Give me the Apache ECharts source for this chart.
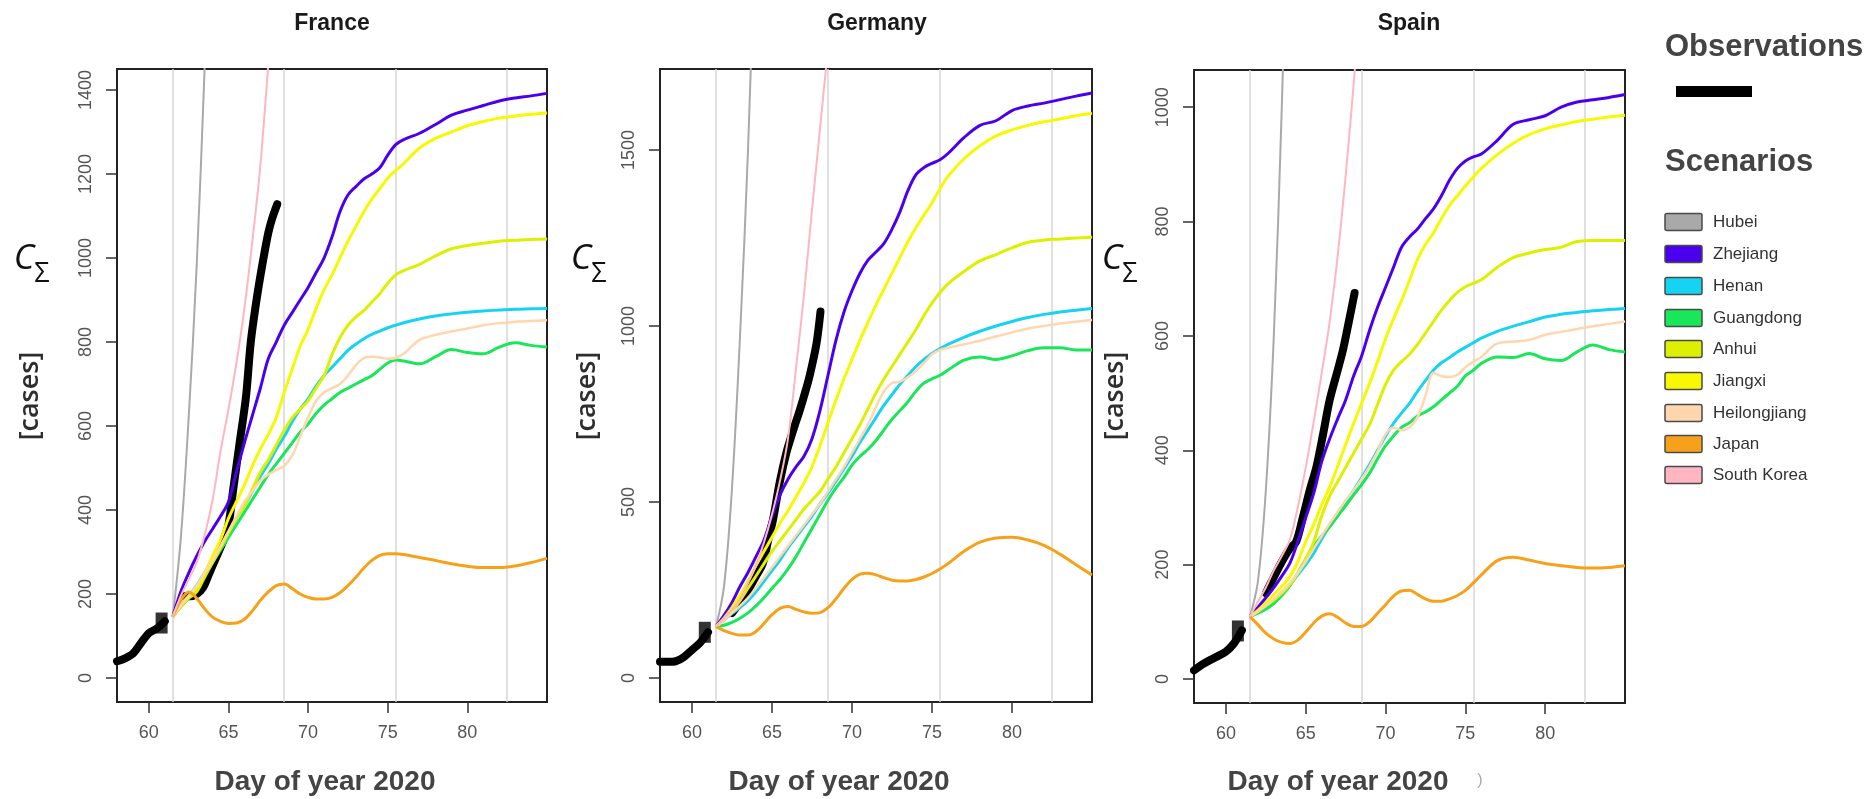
<!DOCTYPE html>
<html>
<head>
<meta charset="utf-8">
<script src="https://cdn.jsdelivr.net/npm/echarts@6/dist/echarts.min.js"></script>
<style>
  html, body { margin: 0; padding: 0; background: #fff; }
  #chart { width: 1874px; height: 799px; }
</style>
</head>
<body>
<div id="chart"></div>
<script>
// ---- Scenario projections: cumulative cases by day of year 2020 ----
const DAYS = [61.5,62,62.5,63,63.5,64,64.5,65,65.5,66,66.5,67,67.5,68,68.5,69,69.5,70,70.5,71,71.5,72,72.5,73,73.5,74,74.5,75,75.5,76,77,78,79,80,81,82,83,84,85];

const SCENARIOS = ['Hubei','Zhejiang','Henan','Guangdong','Anhui','Jiangxi','Heilongjiang','Japan','South Korea'];
const PANEL_NAMES = ['France','Germany','Spain'];

const X_TICKS = [60,65,70,75,80];
const WEEK_LINES = [61.5,68.5,75.5,82.5];
const FR_Y_TICKS = [0,200,400,600,800,1000,1200,1400];
const DE_Y_TICKS = [0,500,1000,1500];
const ES_Y_TICKS = [0,200,400,600,800,1000];

// France
const FR_HUBEI = [146,330,620,980,1450,2000];
const FR_ZHEJIANG = [146,205,250,290,325,355,385,420,490,560,625,690,760,800,840,870,900,930,965,1000,1050,1110,1150,1170,1188,1200,1215,1245,1270,1282,1297,1318,1340,1352,1363,1374,1381,1386,1392];
const FR_HENAN = [146,172,195,220,250,280,310,345,380,410,445,480,510,545,575,610,640,665,695,720,740,760,780,795,808,818,826,834,840,846,855,862,867,871,874,876,878,879,880];
const FR_GUANGDONG = [146,170,190,215,245,275,305,335,365,395,425,455,485,510,535,560,585,605,630,650,665,680,690,700,710,720,735,750,757,755,748,765,782,775,772,788,798,792,788];
const FR_ANHUI = [146,170,190,205,240,275,310,345,380,410,450,490,520,555,590,620,640,660,690,720,770,810,840,860,875,895,915,940,960,970,985,1005,1022,1030,1035,1040,1042,1044,1045];
const FR_JIANGXI = [146,175,195,215,250,290,330,380,420,460,505,545,580,620,680,735,790,830,880,924,960,1000,1040,1075,1110,1140,1165,1190,1208,1225,1262,1285,1300,1315,1325,1333,1338,1342,1345];
const FR_HEILONGJIANG = [146,172,195,220,250,280,315,350,385,420,445,470,485,495,505,530,575,620,660,680,690,700,720,745,762,765,763,760,762,772,805,817,825,832,840,845,848,850,852];
const FR_JAPAN = [146,185,205,190,165,145,135,130,131,140,160,185,205,220,224,213,200,192,188,188,192,203,220,240,262,280,292,296,296,294,287,280,272,266,263,263,267,275,285];
const FR_SOUTH_KOREA = [146,195,235,275,340,424,540,640,750,880,1040,1220,1460,1700];
const FR_OBS_EARLY_DAYS = [58,58.5,59,59.5,60,60.5,61];
const FR_OBS_EARLY = [40,47,58,83,107,118,135];
const FR_OBS_LATE_DAYS = [62.2,62.6,63,63.4,63.8,64.2,64.6,65,65.3,65.7,66.1,66.4,66.8,67.2,67.5,67.75,68.06];
const FR_OBS_LATE = [195,195,200,215,250,285,320,365,450,560,670,800,910,1000,1060,1095,1128];
const FR_REPORT_DAY = [60.8];
const FR_REPORT_CASES = [131];

// Germany
const DE_HUBEI = [146,260,540,970,1500,2200];
const DE_ZHEJIANG = [146,178,215,260,300,345,392,460,520,565,600,630,680,760,860,960,1040,1100,1150,1187,1210,1235,1275,1325,1385,1430,1450,1462,1472,1490,1535,1570,1583,1612,1625,1633,1643,1653,1662];
const DE_HENAN = [146,165,183,200,220,245,275,305,335,370,400,430,460,495,525,560,595,630,670,705,740,775,805,835,860,885,905,922,936,948,968,985,1000,1013,1024,1033,1040,1045,1050];
const DE_GUANGDONG = [146,150,158,170,185,205,228,255,280,310,345,385,425,465,505,540,570,605,630,650,675,705,735,760,785,815,838,850,860,875,903,912,905,915,930,938,938,932,932];
const DE_ANHUI = [146,165,190,220,255,290,325,360,390,420,450,480,505,530,565,600,640,680,720,765,810,850,885,920,955,990,1030,1065,1095,1120,1155,1185,1203,1222,1238,1244,1247,1250,1252];
const DE_JIANGXI = [146,170,200,235,275,320,360,400,440,475,515,555,600,660,725,790,850,905,960,1010,1060,1105,1150,1195,1240,1280,1315,1350,1390,1425,1475,1512,1540,1557,1570,1580,1588,1597,1604];
const DE_HEILONGJIANG = [146,165,185,205,228,255,285,315,345,375,405,435,465,495,530,565,600,640,680,720,770,815,838,842,855,872,895,920,932,938,948,958,970,982,993,1000,1007,1012,1017];
const DE_JAPAN = [146,135,127,122,122,132,155,180,198,203,195,188,184,186,200,225,255,280,295,298,293,285,278,276,276,280,287,297,310,325,360,386,398,400,392,377,352,322,293];
const DE_SOUTH_KOREA = [146,170,195,222,270,320,385,465,560,680,880,1090,1330,1560,1790];
const DE_OBS_EARLY_DAYS = [58,58.5,59,59.5,60,60.5,61];
const DE_OBS_EARLY = [46,46,48,60,80,100,130];
const DE_OBS_LATE_DAYS = [62.5,63,63.5,64,64.43,64.8,65.06,65.5,65.9,66.3,66.73,67.06,67.36,67.78,68.03];
const DE_OBS_LATE = [185,215,250,290,326,400,449,560,640,700,760,810,860,950,1041];
const DE_REPORT_DAY = [60.8];
const DE_REPORT_CASES = [130];

// Spain
const ES_HUBEI = [109,170,330,600,1000,1500];
const ES_ZHEJIANG = [109,125,142,160,180,202,240,282,325,380,420,455,488,530,565,610,650,685,720,755,773,787,805,822,845,872,893,906,913,918,942,970,978,985,1000,1009,1013,1017,1022];
const ES_HENAN = [109,117,126,137,150,165,182,200,220,245,268,290,310,330,352,375,400,425,447,465,482,503,522,540,553,562,572,580,588,596,608,617,625,633,638,641,644,646,648];
const ES_GUANGDONG = [109,115,122,132,146,163,185,210,232,250,266,285,303,322,340,360,385,408,425,440,448,460,467,476,488,500,512,530,540,552,563,562,569,560,557,572,584,576,572];
const ES_ANHUI = [109,118,128,138,150,165,185,210,240,285,320,345,370,395,420,445,480,515,540,555,568,585,605,625,645,662,676,686,692,698,720,737,745,751,755,765,767,767,767];
const ES_JIANGXI = [109,120,133,148,162,179,205,240,270,305,336,372,410,447,482,517,555,595,630,662,697,734,760,780,805,828,845,862,878,893,917,937,952,962,969,975,979,983,986];
const ES_HEILONGJIANG = [109,118,128,140,153,168,185,205,228,250,272,292,312,330,350,372,398,428,440,435,440,458,495,535,530,528,532,545,555,563,587,590,593,602,607,612,617,621,625];
const ES_JAPAN = [109,95,80,70,64,62,68,82,98,110,114,108,98,92,92,100,115,130,145,154,155,148,140,136,136,140,146,155,168,182,207,213,208,202,198,195,194,195,198];
const ES_SOUTH_KOREA = [109,135,160,190,215,243,300,370,450,535,625,740,880,1040,1210];
const ES_OBS_EARLY_DAYS = [58,58.5,59,59.5,60,60.5,61];
const ES_OBS_EARLY = [15,25,33,40,48,62,85];
const ES_OBS_LATE_DAYS = [62.5,63,63.5,64,64.4,64.83,65.25,65.67,66.1,66.5,67,67.33,67.7,68.06];
const ES_OBS_LATE = [150,178,205,228,240,284,330,371,430,488,540,575,625,675];
const ES_REPORT_DAY = [60.75];
const ES_REPORT_CASES = [84];

// ---- styling ----
const SCENARIO_COLORS = ['#a9a9a9','#4a00ee','#16d3f2','#1ae65a','#dcf000','#f8f800','#ffd6ad','#f7a11a','#ffb6c1'];
const SCENARIO_WIDTHS = [2, 3, 3, 3, 3, 3, 2.5, 3, 2];
const TICK_FONT = '"Liberation Sans", Arial, sans-serif';

const panels = [
  { scen: [FR_HUBEI,FR_ZHEJIANG,FR_HENAN,FR_GUANGDONG,FR_ANHUI,FR_JIANGXI,FR_HEILONGJIANG,FR_JAPAN,FR_SOUTH_KOREA],
    obs: [[FR_OBS_EARLY_DAYS,FR_OBS_EARLY],[FR_OBS_LATE_DAYS,FR_OBS_LATE]], rep: [FR_REPORT_DAY,FR_REPORT_CASES],
    yTicks: FR_Y_TICKS, yMin: -57, yMax: 1450,
    grid: { left: 117, top: 69, width: 430, height: 633 } },
  { scen: [DE_HUBEI,DE_ZHEJIANG,DE_HENAN,DE_GUANGDONG,DE_ANHUI,DE_JIANGXI,DE_HEILONGJIANG,DE_JAPAN,DE_SOUTH_KOREA],
    obs: [[DE_OBS_EARLY_DAYS,DE_OBS_EARLY],[DE_OBS_LATE_DAYS,DE_OBS_LATE]], rep: [DE_REPORT_DAY,DE_REPORT_CASES],
    yTicks: DE_Y_TICKS, yMin: -68, yMax: 1730,
    grid: { left: 660, top: 69, width: 432, height: 633 } },
  { scen: [ES_HUBEI,ES_ZHEJIANG,ES_HENAN,ES_GUANGDONG,ES_ANHUI,ES_JIANGXI,ES_HEILONGJIANG,ES_JAPAN,ES_SOUTH_KOREA],
    obs: [[ES_OBS_EARLY_DAYS,ES_OBS_EARLY],[ES_OBS_LATE_DAYS,ES_OBS_LATE]], rep: [ES_REPORT_DAY,ES_REPORT_CASES],
    yTicks: ES_Y_TICKS, yMin: -42, yMax: 1065,
    grid: { left: 1194, top: 70, width: 431, height: 633 } }
];

const pairs = (xs, ys) => ys.map((y, i) => [xs[i], y]);
const plain = v => String(v);

const grids = [], xAxes = [], yAxes = [], series = [];
panels.forEach((p, k) => {
  grids.push(Object.assign({ show: true, borderColor: '#222', borderWidth: 2, containLabel: false, outerBoundsMode: 'none' }, p.grid));
  xAxes.push({
    type: 'value', gridIndex: k, min: 58, max: 85,
    axisLine: { show: true, onZero: false, lineStyle: { color: '#222', width: 2 } },
    axisTick: { show: true, length: 11, customValues: X_TICKS, lineStyle: { color: '#333', width: 1.5 } },
    axisLabel: { customValues: X_TICKS, formatter: plain, margin: 22, color: '#555', fontSize: 18, fontFamily: TICK_FONT },
    splitLine: { show: false }
  });
  yAxes.push({
    type: 'value', gridIndex: k, min: p.yMin, max: p.yMax,
    axisLine: { show: true, onZero: false, lineStyle: { color: '#222', width: 2 } },
    axisTick: { show: true, length: 11, customValues: p.yTicks, lineStyle: { color: '#333', width: 1.5 } },
    axisLabel: { customValues: p.yTicks, formatter: plain, rotate: 90, margin: 22, color: '#555', fontSize: 18, fontFamily: TICK_FONT },
    splitLine: { show: false }
  });
  // weekly reference lines + observed cases
  p.obs.forEach((o, j) => {
    const s = {
      type: 'line', xAxisIndex: k, yAxisIndex: k, data: pairs(o[0], o[1]),
      showSymbol: false, symbol: 'none', smooth: 0.3, z: 2,
      lineStyle: { color: '#000', width: 8, cap: 'round', join: 'round' }
    };
    if (j === 0) {
      s.markLine = {
        silent: true, symbol: ['none', 'none'], label: { show: false },
        lineStyle: { color: '#d6d6d6', width: 1.5, type: 'solid' },
        data: WEEK_LINES.map(d => ({ xAxis: d })), z: 1
      };
    }
    series.push(s);
  });
  series.push({
    type: 'scatter', xAxisIndex: k, yAxisIndex: k, data: pairs(p.rep[0], p.rep[1]),
    symbol: 'rect', symbolSize: [12, 21], itemStyle: { color: '#000' }, z: 3
  });
  p.scen.forEach((vals, i) => {
    series.push({
      name: SCENARIOS[i], type: 'line', xAxisIndex: k, yAxisIndex: k,
      data: pairs(DAYS, vals), showSymbol: false, symbol: 'none', smooth: 0.35, z: 4 + i,
      lineStyle: { color: SCENARIO_COLORS[i], width: SCENARIO_WIDTHS[i] }
    });
  });
});

// ---- text and legend ----
const graphic = [];
const titleX = [332, 877, 1409];
const xNameX = [325, 839, 1338];
const cX = [24, 581, 1112];
const casesX = [30, 587, 1115];
PANEL_NAMES.forEach((name, k) => {
  graphic.push({ type: 'text', x: titleX[k], y: 24, style: { text: name, fill: '#1a1a1a', font: 'bold 23px "Liberation Sans", Arial', textAlign: 'center', textVerticalAlign: 'middle' } });
  graphic.push({ type: 'text', x: xNameX[k], y: 782, style: { text: 'Day of year 2020', fill: '#444', font: 'bold 28px "Liberation Sans", Arial', textAlign: 'center', textVerticalAlign: 'middle' } });
  graphic.push({ type: 'text', x: cX[k], y: 259, style: { text: 'C', fill: '#111', font: 'italic 35px "Open Sans", sans-serif', textAlign: 'center', textVerticalAlign: 'middle' } });
  graphic.push({ type: 'text', x: cX[k] + 18, y: 274, style: { text: 'Σ', fill: '#111', font: '27px "Open Sans", sans-serif', textAlign: 'center', textVerticalAlign: 'middle' } });
  graphic.push({ type: 'text', x: casesX[k], y: 396, rotation: Math.PI / 2, style: { text: '[cases]', fill: '#2e2e2e', font: '600 27px "Open Sans", sans-serif', textAlign: 'center', textVerticalAlign: 'middle' } });
});
graphic.push({ type: 'text', x: 1480, y: 781, style: { text: ')', fill: '#aaa', font: '16px "Liberation Sans", Arial', textAlign: 'center', textVerticalAlign: 'middle' } });

graphic.push({ type: 'text', x: 1665, y: 47, style: { text: 'Observations', fill: '#444', font: 'bold 31px "Liberation Sans", Arial', textAlign: 'left', textVerticalAlign: 'middle' } });
graphic.push({ type: 'rect', shape: { x: 1676, y: 86, width: 76, height: 11 }, style: { fill: '#000' } });
graphic.push({ type: 'text', x: 1665, y: 162, style: { text: 'Scenarios', fill: '#444', font: 'bold 31px "Liberation Sans", Arial', textAlign: 'left', textVerticalAlign: 'middle' } });
const legendRowY = [222, 254, 286, 318, 349, 381, 413, 444, 475];
SCENARIOS.forEach((name, i) => {
  graphic.push({ type: 'rect', shape: { x: 1665, y: legendRowY[i] - 8.5, width: 37, height: 17, r: 2 },
    style: { fill: SCENARIO_COLORS[i], stroke: '#4a4a4a', lineWidth: 1.5 } });
  graphic.push({ type: 'text', x: 1713, y: legendRowY[i], style: { text: name, fill: '#333', font: '17px "Liberation Sans", Arial', textAlign: 'left', textVerticalAlign: 'middle' } });
});

const chart = echarts.init(document.getElementById('chart'), null, { renderer: 'canvas' });
chart.setOption({
  animation: false,
  backgroundColor: '#fff',
  grid: grids, xAxis: xAxes, yAxis: yAxes, series: series, graphic: graphic
});
</script>
</body>
</html>
